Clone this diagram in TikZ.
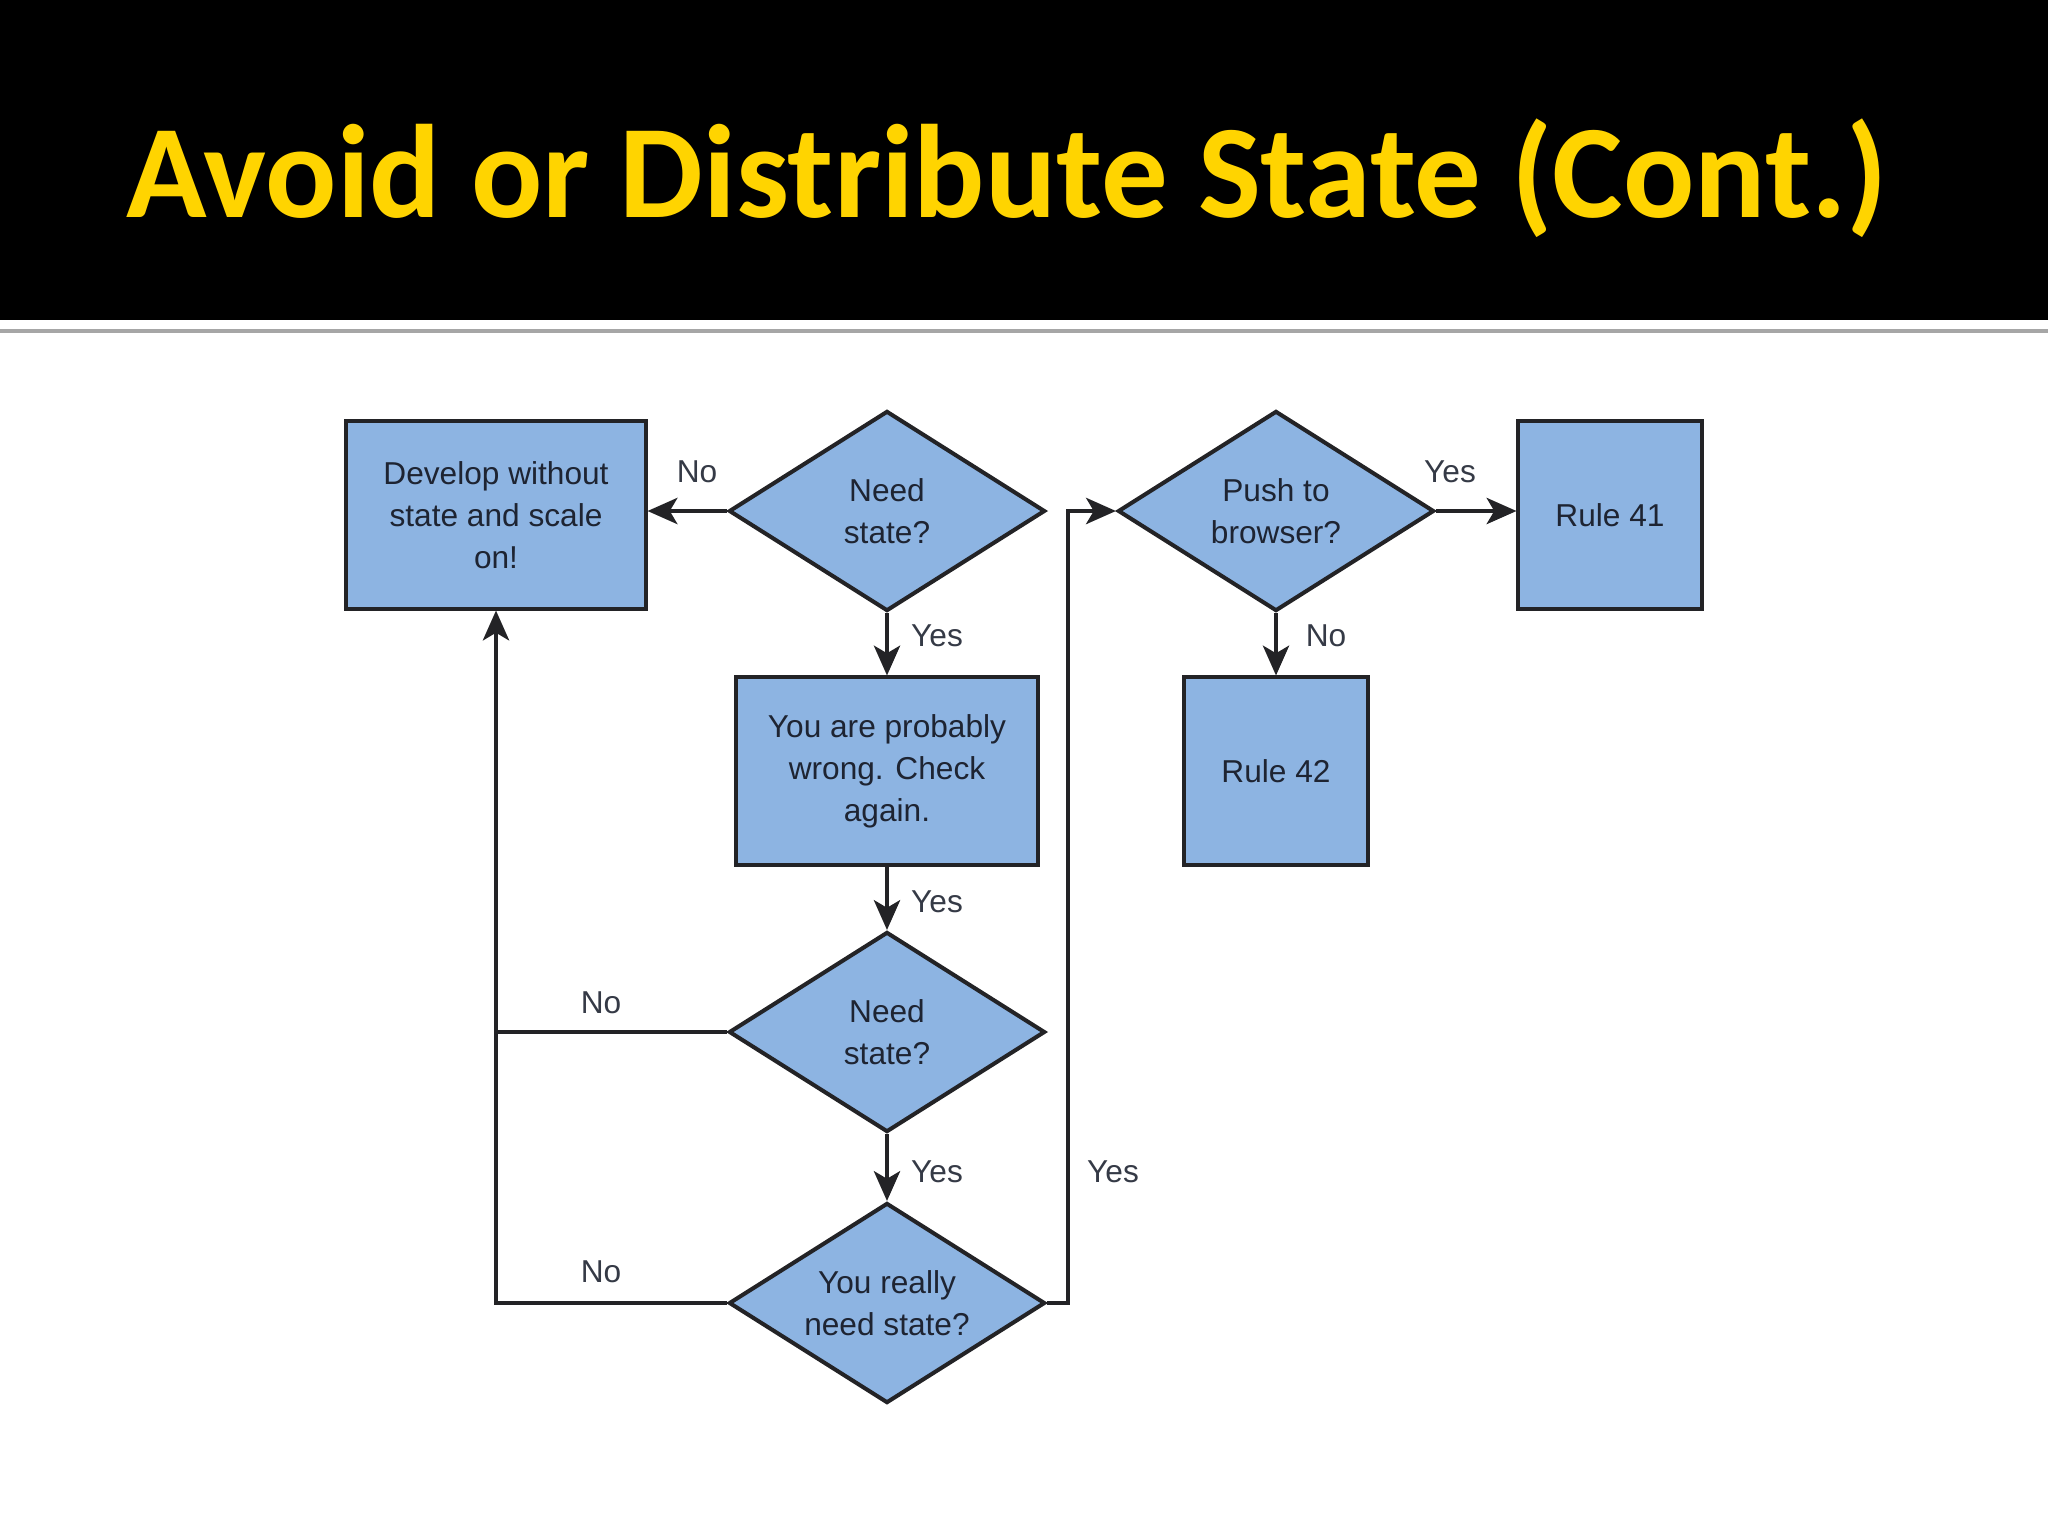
\documentclass[tikz,border=0pt]{standalone}
\usepackage{fontspec}
\setmainfont{Liberation Sans}
\newfontfamily\titlefont{Carlito}
\usetikzlibrary{shapes.geometric,arrows.meta}
\definecolor{boxblue}{RGB}{141,180,226}
\definecolor{titleyellow}{RGB}{255,212,0}
\definecolor{inkdark}{RGB}{30,36,50}
\definecolor{edgedark}{RGB}{35,35,38}
\tikzset{
  stepbox/.style={rectangle, draw=edgedark, line width=1.15pt, fill=boxblue, text=inkdark,
    align=center, inner sep=0pt, font=\fontsize{9}{11.9}\selectfont},
  decision/.style={diamond, draw=edgedark, line width=1.15pt, fill=boxblue, text=inkdark,
    align=center, inner sep=0pt, aspect=1.58, minimum width=3.16cm, minimum height=2cm,
    font=\fontsize{9}{11.9}\selectfont},
  flow/.style={draw=edgedark, line width=0.95pt, -{Stealth[length=8.5pt,width=7.5pt,inset=2.2pt]}},
  link/.style={draw=edgedark, line width=0.95pt},
  answer/.style={text=inkdark!90, font=\fontsize{9}{11.9}\selectfont}
}
\begin{document}
\begin{tikzpicture}[x=0.01cm,y=-0.01cm]
			\useasboundingbox (0,0) rectangle (2048,1536);
			
			% Header band with the title
			\fill[black] (0,0) rectangle (2048,320);
			\draw[gray!70, line width=1pt] (0,331) -- (2048,331);
			\node[text=titleyellow, anchor=base, font=\titlefont\bfseries\fontsize{37.8}{40}\selectfont] (title) at (1007,217) {Avoid or Distribute State (Cont.)};
			
			% Boxes and decisions
			\node[stepbox, minimum width=2.99cm, minimum height=1.87cm] (develop) at (496,515) {Develop without\\state and scale\\on!};
			\node[decision] (need) at (887,511) {Need\\state?};
			\node[stepbox, minimum width=3.01cm, minimum height=1.87cm] (wrong) at (887,771) {You are probably\\wrong. Check\\again.};
			\node[decision] (needagain) at (887,1032) {Need\\state?};
			\node[decision] (really) at (887,1303) {You really\\need state?};
			\node[decision] (push) at (1276,511) {Push to\\browser?};
			\node[stepbox, minimum width=1.83cm, minimum height=1.87cm] (ruleA) at (1610,515) {Rule 41};
			\node[stepbox, minimum width=1.83cm, minimum height=1.87cm] (ruleB) at (1276,771) {Rule 42};
			
			% Corner of the loop back to the push decision
			\coordinate (railtop) at (1068,511);
			
			% Connectors
			\draw[flow] (need.west) -- (need.west -| develop.east);
			\draw[flow] (need.south) -- (wrong.north);
			\draw[flow] (wrong.south) -- (needagain.north);
			\draw[flow] (needagain.south) -- (really.north);
			\draw[link] (needagain.west) -- (needagain.west -| develop.south);
			\draw[flow] (really.west) -- (really.west -| develop.south) -- (develop.south);
			\draw[flow] (really.east) -- (really.east -| railtop) -- (railtop) -- (push.west);
			\draw[flow] (push.east) -- (push.east -| ruleA.west);
			\draw[flow] (push.south) -- (ruleB.north);
			
			% Answers on the connectors
			\node[answer] (noA) at (697,472) {No};
			\node[answer] (yesA) at (937,636) {Yes};
			\node[answer] (yesB) at (937,902) {Yes};
			\node[answer] (noB) at (601,1003) {No};
			\node[answer] (yesC) at (937,1172) {Yes};
			\node[answer] (yesD) at (1113,1172) {Yes};
			\node[answer] (noC) at (601,1272) {No};
			\node[answer] (yesE) at (1450,472) {Yes};
			\node[answer] (noD) at (1326,636) {No};
		\end{tikzpicture}
\end{document}
